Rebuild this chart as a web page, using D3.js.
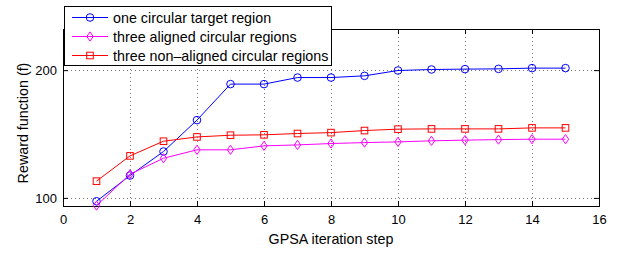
<!DOCTYPE html>
<html>
<head>
<meta charset="utf-8">
<script src="https://cdn.jsdelivr.net/npm/d3@7"></script>
<style>
body { margin: 0; background: #fff; }
svg { font-family: "Liberation Sans", Arial, sans-serif; }
</style>
</head>
<body>
<div id="chart"></div>
<script>
// values
var steps = [1,2,3,4,5,6,7,8,9,10,11,12,13,14,15];
var oneCircular = [98.2,112.9,128.6,152.5,185.4,185.4,192.1,192.1,193.9,199.6,200.7,201.1,201.4,202.2,202.2];
var threeAligned = [95.9,113.7,124.0,129.8,129.8,132.6,133.3,134.3,135.0,135.5,136.3,136.8,137.2,137.5,137.5];
var threeNonAligned = [109.5,125.6,136.0,139.2,140.5,140.8,141.8,142.5,144.1,145.2,145.4,145.4,145.4,146.2,146.2];
var xTicks = [0,2,4,6,8,10,12,14,16];
var yTicks = [100,200];

var series = [
    {name: 'one circular target region', values: oneCircular, color: '#0000ff', marker: 'circle'},
    {name: 'three aligned circular regions', values: threeAligned, color: '#ff00ff', marker: 'diamond'},
    {name: 'three non\u2013aligned circular regions', values: threeNonAligned, color: '#ff0000', marker: 'square'}
];

var W = 624, H = 253;
var margin = {top: 29, right: 25, bottom: 47, left: 63};
var width = W - margin.left - margin.right,
    height = H - margin.top - margin.bottom;
var labelSize = 14.3;

var svg = d3.select('#chart').append('svg')
    .attr('width', W).attr('height', H);
var g = svg.append('g')
    .attr('transform', 'translate(' + margin.left + ',' + margin.top + ')');

var x = d3.scaleLinear().domain([0, 16]).range([0, width]);
var y = d3.scaleLog().domain([95.7, 250]).range([height, 0]);

// grid
g.append('g').selectAll('line')
    .data(xTicks.filter(function(d){ return d > 0 && d < 16; }))
    .enter().append('line')
    .attr('x1', function(d){ return Math.round(x(d)) + 0.5; })
    .attr('x2', function(d){ return Math.round(x(d)) + 0.5; })
    .attr('y1', 0).attr('y2', height)
    .attr('stroke', '#777').attr('stroke-width', 1)
    .attr('stroke-dasharray', '1,3');
g.append('g').selectAll('line')
    .data(yTicks)
    .enter().append('line')
    .attr('y1', function(d){ return Math.round(y(d)) + 0.5; })
    .attr('y2', function(d){ return Math.round(y(d)) + 0.5; })
    .attr('x1', 0).attr('x2', width)
    .attr('stroke', '#777').attr('stroke-width', 1)
    .attr('stroke-dasharray', '1,3');

// axes
var xAxis = d3.axisBottom(x).tickValues(xTicks).tickSize(-5).tickPadding(9);
var yAxis = d3.axisLeft(y).tickValues(yTicks).tickSize(-5).tickPadding(6)
    .tickFormat(d3.format('d'));

var gx = g.append('g').attr('transform', 'translate(0,' + height + ')').call(xAxis);
var gy = g.append('g').call(yAxis);
g.append('g').call(d3.axisTop(x).tickValues(xTicks).tickSize(-5).tickFormat(''));
g.append('g').attr('transform', 'translate(' + width + ',0)')
    .call(d3.axisRight(y).tickValues(yTicks).tickSize(-5).tickFormat(''));

g.selectAll('.domain').remove();
g.selectAll('.tick line').attr('stroke', '#000');
g.selectAll('.tick text').attr('font-size', 13).attr('fill', '#000')
    .attr('font-family', '"Liberation Sans", Arial, sans-serif');

g.append('rect')
    .attr('x', 0.5).attr('y', 0.5)
    .attr('width', width).attr('height', height)
    .attr('fill', 'none').attr('stroke', '#000').attr('stroke-width', 1);

// lines
var line = d3.line()
    .x(function(d, i){ return x(steps[i]); })
    .y(function(d){ return y(d); });

function drawMarker(sel, type, color) {
    if (type === 'circle') {
        sel.append('circle').attr('r', 3.8);
    } else if (type === 'square') {
        sel.append('rect').attr('x', -3.3).attr('y', -3.3)
            .attr('width', 6.6).attr('height', 6.6);
    } else {
        sel.append('path').attr('d', 'M0,-4.6L3.2,0L0,4.6L-3.2,0Z');
    }
    sel.selectAll('*').attr('fill', 'none').attr('stroke', color).attr('stroke-width', 1);
}

series.forEach(function(s) {
    g.append('path')
        .datum(s.values)
        .attr('d', line)
        .attr('fill', 'none')
        .attr('stroke', s.color)
        .attr('stroke-width', 1);
    g.append('g').selectAll('g')
        .data(s.values)
        .enter().append('g')
        .attr('transform', function(d, i){ return 'translate(' + x(steps[i]) + ',' + y(d) + ')'; })
        .each(function(){ drawMarker(d3.select(this), s.marker, s.color); });
});

// axis labels
svg.append('text')
    .attr('x', margin.left + width / 2)
    .attr('y', 244)
    .attr('text-anchor', 'middle')
    .attr('font-size', labelSize)
    .text('GPSA iteration step');

svg.append('text')
    .attr('transform', 'translate(27.5,' + 123 + ') rotate(-90)')
    .attr('text-anchor', 'middle')
    .attr('font-size', labelSize)
    .text('Reward function (f)');

// legend
var legend = svg.append('g');
legend.append('rect')
    .attr('x', 64.5).attr('y', 6.5)
    .attr('width', 267).attr('height', 59)
    .attr('fill', '#fff').attr('stroke', '#000').attr('stroke-width', 1);

series.forEach(function(s, i) {
    var ly = 17.5 + i * 19;
    legend.append('line')
        .attr('x1', 72).attr('x2', 108)
        .attr('y1', ly).attr('y2', ly)
        .attr('stroke', s.color).attr('stroke-width', 1);
    var m = legend.append('g').attr('transform', 'translate(90,' + ly + ')');
    drawMarker(m, s.marker, s.color);
    legend.append('text')
        .attr('x', 113).attr('y', ly + 5)
        .attr('font-size', labelSize)
        .text(s.name);
});
</script>
</body>
</html>
